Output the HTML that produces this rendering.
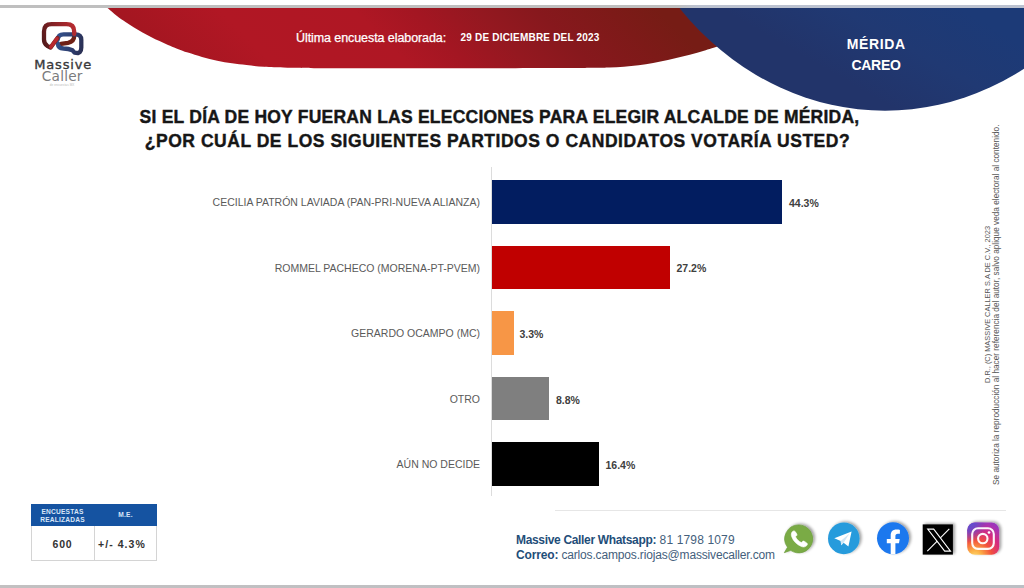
<!DOCTYPE html>
<html lang="es">
<head>
<meta charset="utf-8">
<title>Massive Caller - Mérida Careo</title>
<style>
html,body{margin:0;padding:0;background:#fff;}
body{width:1024px;height:588px;overflow:hidden;position:relative;font-family:"Liberation Sans",sans-serif;}
#page{position:absolute;left:0;top:0;width:1024px;height:588px;overflow:hidden;background:#fff;}
.abs{position:absolute;white-space:nowrap;line-height:1;}
#topline{left:0;top:5px;width:1024px;height:3.4px;background:linear-gradient(90deg,#bfbfbf 0,#bfbfbf 66%,#bcc2d0 68%,#bcc2d0 100%);}
#botline{left:0;top:584.6px;width:1024px;height:3.4px;background:linear-gradient(90deg,#c2c0c1,#bcbfc4);}
#hdr{left:0;top:0;}
/* header texts */
#ult{left:296px;top:32px;font-size:12.5px;color:#fff;letter-spacing:-0.08px;-webkit-text-stroke:0.25px #fff;}
#fecha{left:460.5px;top:33px;font-size:10px;font-weight:bold;color:#fff;letter-spacing:0.2px;}
#city{left:826px;top:33.7px;width:100px;text-align:center;font-size:14px;font-weight:bold;color:#fff;line-height:21px;letter-spacing:0px;}
/* logo */
#lg1{left:34.3px;top:58.3px;text-align:left;font-family:"DejaVu Sans","Liberation Sans",sans-serif;font-size:13px;color:#38383a;letter-spacing:0.8px;-webkit-text-stroke:0.35px #38383a;}
#lg2{left:41.8px;top:69.9px;text-align:left;font-family:"DejaVu Sans","Liberation Sans",sans-serif;font-size:13.7px;color:#7b7b7d;font-weight:normal;letter-spacing:0.2px;}
#lg3{left:49.7px;top:83.5px;font-size:3px;color:#b9b9b9;letter-spacing:0.1px;}
/* title */
.ttl{left:0;width:997px;text-align:center;font-weight:bold;font-size:17.5px;color:#161616;letter-spacing:0.6px;-webkit-text-stroke:0.4px #161616;}
#t1{top:109px;letter-spacing:0.23px;left:1px;}
#t2{top:132.6px;letter-spacing:0.53px;left:-1px;}
/* chart */
#axis{left:491px;top:167px;width:1px;height:329px;background:#dcdcdc;}
.bar{left:492px;height:43.5px;}
.cat{right:544px;font-size:10.5px;color:#5a5a5a;text-align:right;letter-spacing:0px;}
.val{font-size:10.5px;color:#404040;font-weight:bold;}
/* vertical text */
.vt{font-size:7.4px;color:#555;transform-origin:0 0;transform:rotate(-90deg);}
/* table */
#tbl{left:31px;top:504px;width:126px;height:57px;border:1px solid #d4d4d4;box-sizing:border-box;background:#fff;}
#th{left:31px;top:504px;width:126px;height:22px;background:#1553a1;}
#tdiv{left:94px;top:526px;width:1px;height:35px;background:#d4d4d4;}
.thx{font-size:6.6px;font-weight:bold;color:#d9e6f7;text-align:center;letter-spacing:0.2px;}
.tdx{font-size:10.5px;font-weight:bold;color:#333;text-align:center;letter-spacing:0.8px;}
/* footer */
#fline{left:555px;top:510px;width:451px;height:1px;background:#e6e6e6;}
.ft{left:516px;font-size:12px;color:#44607c;letter-spacing:-0.16px;}
.ft b{color:#1f4e79;}
</style>
</head>
<body>
<div id="page">

<svg id="hdr" class="abs" width="1024" height="130" viewBox="0 0 1024 130">
  <defs>
    <linearGradient id="rg" x1="107" y1="68" x2="411.5" y2="-236.5" gradientUnits="userSpaceOnUse">
      <stop offset="0" stop-color="#9c1520"/>
      <stop offset="0.12" stop-color="#a51621"/>
      <stop offset="0.28" stop-color="#b11724"/>
      <stop offset="0.5" stop-color="#af1724"/>
      <stop offset="0.6" stop-color="#a31622"/>
      <stop offset="0.7" stop-color="#941820"/>
      <stop offset="0.8" stop-color="#87181d"/>
      <stop offset="0.92" stop-color="#7d1a18"/>
      <stop offset="1" stop-color="#761c15"/>
    </linearGradient>
    <linearGradient id="bg" x1="960" y1="8" x2="900" y2="112" gradientUnits="userSpaceOnUse">
      <stop offset="0" stop-color="#1c3a77"/>
      <stop offset="0.5" stop-color="#203973"/>
      <stop offset="1" stop-color="#22346a"/>
    </linearGradient>
    <clipPath id="hc"><rect x="0" y="8" width="1024" height="130"/></clipPath>
  </defs>
  <g clip-path="url(#hc)">
    <path fill="url(#rg)" d="M107.5 8.0 C109.1 9.3 114.0 13.7 117.0 16.0 C120.0 18.3 122.7 20.1 125.5 22.0 C128.3 23.9 131.2 25.7 134.0 27.5 C136.8 29.3 139.7 31.0 142.5 32.6 C145.3 34.2 148.2 35.5 151.0 36.9 C153.8 38.3 156.7 39.8 159.5 41.1 C162.3 42.5 165.2 43.8 168.0 45.0 C170.8 46.2 173.2 47.1 176.5 48.4 C179.8 49.7 183.7 51.2 187.9 52.6 C192.2 54.0 197.1 55.6 202.0 57.0 C206.9 58.4 212.2 59.7 217.2 60.7 C222.2 61.8 227.1 62.6 232.0 63.3 C236.9 64.0 241.2 64.5 246.5 65.1 C251.8 65.7 257.2 66.4 264.0 66.8 C270.8 67.2 275.8 67.5 287.5 67.7 C299.2 67.9 307.3 68.1 334.4 68.2 C361.5 68.3 412.4 68.2 450.0 68.2 C487.6 68.2 535.8 68.1 560.0 68.0 C584.2 67.9 586.8 67.8 595.0 67.7 C603.2 67.6 604.5 67.6 609.3 67.4 C614.1 67.2 619.0 67.1 623.9 66.7 C628.8 66.3 633.7 65.8 638.6 65.2 C643.5 64.6 648.3 63.8 653.2 62.9 C658.1 62.0 663.0 61.0 667.9 60.0 C672.8 59.0 677.6 57.8 682.5 56.6 C687.4 55.4 692.3 54.1 697.2 52.7 C702.1 51.3 705.5 50.3 711.8 48.3 C718.1 46.3 731.1 41.8 735.0 40.5 L735 8 Z"/>
    <ellipse cx="885" cy="-195.9" rx="275.2" ry="306.6" fill="url(#bg)"/>
  </g>
</svg>
<div id="topline" class="abs"></div>

<div id="ult" class="abs">Última encuesta elaborada:</div>
<div id="fecha" class="abs">29 DE DICIEMBRE DEL 2023</div>
<div id="city" class="abs"><span style="letter-spacing:0.65px;margin-right:-0.65px">MÉRIDA</span><br><span style="letter-spacing:-0.3px">CAREO</span></div>

<!-- logo -->
<svg class="abs" style="left:36px;top:16px" width="56" height="44" viewBox="36 16 56 44">
  <defs>
    <linearGradient id="lr" x1="42" y1="40" x2="76" y2="26" gradientUnits="userSpaceOnUse">
      <stop offset="0" stop-color="#541a1b"/><stop offset="0.55" stop-color="#8f2428"/><stop offset="1" stop-color="#bb2c31"/>
    </linearGradient>
    <linearGradient id="lb" x1="57" y1="40" x2="84" y2="46" gradientUnits="userSpaceOnUse">
      <stop offset="0" stop-color="#33508a"/><stop offset="0.6" stop-color="#2d3d6e"/><stop offset="1" stop-color="#2a2f52"/>
    </linearGradient>
  </defs>
  <path fill="none" stroke="#6e2016" stroke-width="4.300" stroke-linecap="round" stroke-linejoin="round"
    d="M74.200 33 L74.200 36 C74.200 40 72 42 68 42.800 L61 43.800"/>
  <path fill="none" stroke="url(#lb)" stroke-width="4.300" stroke-linejoin="round" stroke-linecap="round"
    d="M57.800 39.500 C58 36 60 34.400 63.500 34.400 L75.500 34.400 C79.500 34.400 81.300 36.500 81.300 40 L81.300 47.500 C81.300 49.500 80.800 51 79.800 52.200 L78 53.200 L74.500 52.600 L72.500 50.300 C70 49.200 67 48.600 63.500 48.500 C60 48.300 58 46.500 57.800 43.500"/>
  <path fill="none" stroke="url(#lr)" stroke-width="4.300" stroke-linejoin="round" stroke-linecap="round"
    d="M57.500 38 L50.600 47.600 L47.200 45.800 C45 44.300 44 42.300 44 39.500 L44 31.500 C44 26.800 46.500 24.200 51.500 24.200 L66.500 24.200 C71.500 24.200 74.200 26.800 74.200 31.500 L74.200 34"/>
  <path fill="none" stroke="#b9292e" stroke-width="3.600" stroke-linecap="round" d="M50.800 47 L56.800 38.800"/>
</svg>
<div id="lg1" class="abs">Massive</div>
<div id="lg2" class="abs">Caller</div>
<div id="lg3" class="abs">de encuestas MX</div>

<!-- title -->
<div id="t1" class="abs ttl">SI EL DÍA DE HOY FUERAN LAS ELECCIONES PARA ELEGIR ALCALDE DE MÉRIDA,</div>
<div id="t2" class="abs ttl">¿POR CUÁL DE LOS SIGUIENTES PARTIDOS O CANDIDATOS VOTARÍA USTED?</div>

<!-- chart -->
<div id="axis" class="abs"></div>
<div class="abs bar" style="top:180px;width:289.700px;background:#021d60"></div>
<div class="abs bar" style="top:245.600px;width:178px;background:#c00000"></div>
<div class="abs bar" style="top:311px;width:21.600px;background:#f79646"></div>
<div class="abs bar" style="top:376.500px;width:57.300px;background:#7f7f7f"></div>
<div class="abs bar" style="top:442px;width:107.400px;background:#000"></div>

<div class="abs cat" style="top:197px">CECILIA PATRÓN LAVIADA (PAN-PRI-NUEVA ALIANZA)</div>
<div class="abs cat" style="top:263px">ROMMEL PACHECO (MORENA-PT-PVEM)</div>
<div class="abs cat" style="top:328px">GERARDO OCAMPO (MC)</div>
<div class="abs cat" style="top:394px">OTRO</div>
<div class="abs cat" style="top:459px">AÚN NO DECIDE</div>

<div class="abs val" style="left:789px;top:197.500px">44.3%</div>
<div class="abs val" style="left:676.500px;top:263px">27.2%</div>
<div class="abs val" style="left:519.500px;top:328.500px">3.3%</div>
<div class="abs val" style="left:556px;top:394.500px">8.8%</div>
<div class="abs val" style="left:605.500px;top:460px">16.4%</div>

<!-- vertical legal text -->
<div class="abs vt" id="v1" style="left:983.6px;top:383.3px">D.R., (C) MASSIVE CALLER S.A DE C.V., 2023</div>
<div class="abs vt" id="v2" style="left:993.1px;top:484.6px;font-size:8.25px">Se autoriza la reproducción al hacer referencia del autor, salvo aplique veda electoral al contenido.</div>

<!-- table -->
<div id="tbl" class="abs"></div>
<div id="th" class="abs"></div>
<div id="tdiv" class="abs"></div>
<div class="abs thx" style="left:31px;top:507.6px;width:63px;line-height:8.700px">ENCUESTAS<br>REALIZADAS</div>
<div class="abs thx" style="left:94px;top:512px;width:63px">M.E.</div>
<div class="abs tdx" style="left:31px;top:539px;width:63px">600</div>
<div class="abs tdx" style="left:98px;top:539px;text-align:left;letter-spacing:1.05px">+/- 4.3%</div>

<!-- footer -->
<div id="fline" class="abs"></div>
<div class="abs ft" style="top:534px"><b style="letter-spacing:-0.33px">Massive Caller Whatsapp:</b><span style="letter-spacing:0.14px"> 81 1798 1079</span></div>
<div class="abs ft" style="top:549px"><b>Correo:</b> carlos.campos.riojas@massivecaller.com</div>

<!-- ICONS -->
<svg id="icons" class="abs" style="left:775px;top:512px" width="240" height="56" viewBox="775 512 240 56">
  <defs>
    <filter id="sh" x="-20%" y="-20%" width="150%" height="140%">
      <feGaussianBlur in="SourceAlpha" stdDeviation="1.500"/>
      <feOffset dx="2" dy="-0.800" result="o"/>
      <feComponentTransfer><feFuncA type="linear" slope="0.380"/></feComponentTransfer>
      <feMerge><feMergeNode/><feMergeNode in="SourceGraphic"/></feMerge>
    </filter>
    <radialGradient id="ig" cx="975" cy="557" r="42" gradientUnits="userSpaceOnUse">
      <stop offset="0" stop-color="#fedc72"/>
      <stop offset="0.160" stop-color="#fcb045"/>
      <stop offset="0.400" stop-color="#f2503c"/>
      <stop offset="0.620" stop-color="#d62a7e"/>
      <stop offset="0.850" stop-color="#a435b6"/>
      <stop offset="1" stop-color="#8a3cc4"/>
    </radialGradient>
    <radialGradient id="ig2" cx="966" cy="521" r="22" gradientUnits="userSpaceOnUse">
      <stop offset="0" stop-color="#4c55d8" stop-opacity="1"/>
      <stop offset="0.500" stop-color="#5a4fd2" stop-opacity="0.750"/>
      <stop offset="1" stop-color="#6a45c8" stop-opacity="0"/>
    </radialGradient>
  </defs>
  <!-- whatsapp -->
  <g filter="url(#sh)">
    <path fill="#7aab45" stroke="#6c9c3e" stroke-width="0.700" d="M798.700 524.900 A14 14 0 1 1 790.670 550.370 L784.300 552.700 L787.520 547.330 A14 14 0 0 1 798.700 524.900 Z"/>
  </g>
  <path fill="#fff" stroke="#fff" stroke-width="0.600" stroke-linejoin="round" transform="translate(-0.700 1.400)" d="M793.200 530.200 c0.800 -0.900 2 -0.900 2.700 0 l1.500 2.200 c0.500 0.800 0.300 1.700 -0.400 2.300 l-0.800 0.700 c1.300 2.600 3.300 4.500 5.900 5.800 l0.800 -0.900 c0.600 -0.700 1.500 -0.800 2.300 -0.300 l2.200 1.500 c0.900 0.700 0.900 1.900 0 2.700 c-1.500 1.500 -3.300 1.700 -5.300 0.900 c-4.700 -1.900 -8 -5.300 -9.700 -9.800 c-0.700 -1.900 -0.500 -3.700 0.800 -5.100 z"/>
  <!-- telegram -->
  <g filter="url(#sh)"><circle cx="843.800" cy="538.400" r="15.800" fill="#289bdc"/></g>
  <path fill="#fff" d="M834.300 538.300 L851.600 531.600 L848.400 546.400 L843.600 542.800 L841.200 545.200 L840.700 541 Z"/>
  <path fill="#cfe6f5" d="M840.700 541 L849.500 533.600 L843.600 542.800 L841.200 545.200 Z"/>
  <!-- facebook -->
  <g filter="url(#sh)"><circle cx="893" cy="538.200" r="16" fill="#1f78ee"/></g>
  <path fill="#fff" d="M895.400 554 V543.300 h3.600 l0.700 -4.400 h-4.300 v-2.900 c0 -1.300 0.600 -2.300 2.500 -2.300 h2 v-3.800 c-0.500 -0.100 -1.900 -0.300 -3.500 -0.300 c-3.500 0 -5.700 2.100 -5.700 5.900 v3.400 h-3.900 v4.400 h3.900 V554 c1.500 0.250 3.200 0.250 4.700 0 z"/>
  <!-- X -->
  <g filter="url(#sh)"><rect x="922.700" y="524.400" width="30.200" height="30.200" fill="#000"/></g>
  <path d="M949.300 528.800 L927.300 551.200" stroke="#fff" stroke-width="1.100" fill="none"/>
  <path d="M927.700 529.100 L933.700 529.100 L950.500 551.100 L944.700 551.100 Z" fill="#000" stroke="#fff" stroke-width="1.100" stroke-linejoin="miter"/>
  <!-- instagram -->
  <g filter="url(#sh)"><rect x="967.200" y="522.500" width="32" height="32.200" rx="7.800" fill="url(#ig)"/></g>
  <rect x="967.200" y="522.500" width="32" height="32.200" rx="7.800" fill="url(#ig2)"/>
  <rect x="972.200" y="528.300" width="21.600" height="20.600" rx="5.800" fill="none" stroke="#fff" stroke-width="2.100" stroke-opacity="0.950"/>
  <circle cx="982.800" cy="538.600" r="4.700" fill="none" stroke="#fff" stroke-width="2.100" stroke-opacity="0.950"/>
  <circle cx="989" cy="532.500" r="1.350" fill="#fff"/>
</svg>

<div id="botline" class="abs"></div>
</div>
</body>
</html>
